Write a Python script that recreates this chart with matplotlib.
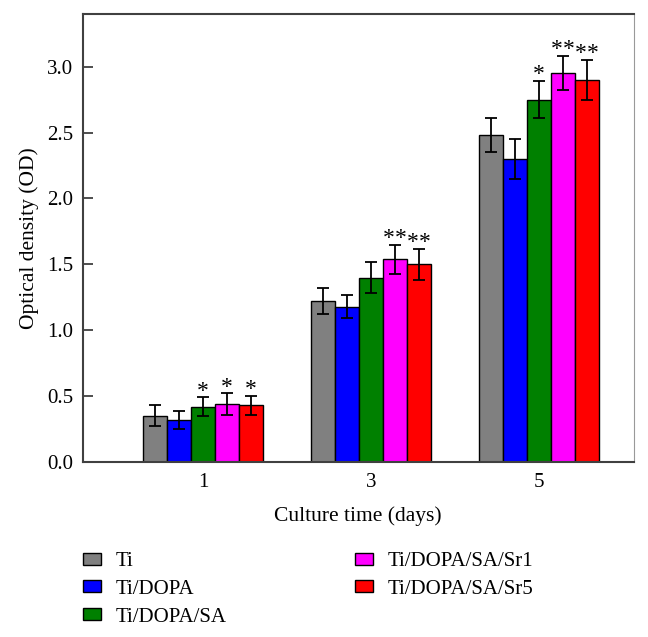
import numpy as np
import matplotlib
matplotlib.use("Agg")
import matplotlib.pyplot as plt

plt.rcParams['font.family'] = ['Liberation Serif', 'DejaVu Serif']

# data
days = ['1', '3', '5']
groups = ['Ti', 'Ti/DOPA', 'Ti/DOPA/SA', 'Ti/DOPA/SA/Sr1', 'Ti/DOPA/SA/Sr5']
colors = ['#808080', '#0000FF', '#008000', '#FF00FF', '#FF0000']
od_mean = [
    [0.35, 1.22, 2.48],   # Ti
    [0.32, 1.18, 2.30],   # Ti/DOPA
    [0.42, 1.40, 2.75],   # Ti/DOPA/SA
    [0.44, 1.54, 2.95],   # Ti/DOPA/SA/Sr1
    [0.43, 1.50, 2.90],   # Ti/DOPA/SA/Sr5
]
od_err = [
    [0.08, 0.10, 0.13],
    [0.07, 0.09, 0.15],
    [0.07, 0.12, 0.14],
    [0.08, 0.11, 0.13],
    [0.07, 0.12, 0.15],
]
# number of significance stars per group and day
stars = [
    [0, 0, 0],
    [0, 0, 0],
    [1, 0, 1],
    [1, 2, 2],
    [1, 2, 2],
]

fig = plt.figure(figsize=(6.48, 6.37), dpi=100)
ax = fig.add_axes([83 / 648, 1 - 462 / 637, (633.6 - 83) / 648, (462 - 14) / 637])

x = np.arange(len(days))
w = 0.143
for i, g in enumerate(groups):
    pos = x + (i - 2) * w
    ax.bar(pos, od_mean[i], width=w, color=colors[i], edgecolor='black',
           linewidth=1.0, label=g, zorder=2)
    ax.errorbar(pos, od_mean[i], yerr=od_err[i], fmt='none', ecolor='black',
                elinewidth=1.3, capsize=4, capthick=1.3, zorder=3)
    for j in range(len(days)):
        n = stars[i][j]
        offs = [0] if n == 1 else ([-4.5, 4.5] if n == 2 else [])
        for dx in offs:
            ax.annotate('*', (pos[j], od_mean[i][j] + od_err[i][j]),
                        xytext=(dx, -3), textcoords='offset points',
                        ha='center', va='bottom', fontsize=17)

ax.set_xlim(-0.715, 2.565)
ax.set_ylim(0, 3.4)
ax.set_yticks([0, 0.5, 1.0, 1.5, 2.0, 2.5, 3.0])
ax.set_yticklabels(['0.0', '0.5', '1.0', '1.5', '2.0', '2.5', '3.0'])
ax.set_xticks(x)
ax.set_xticklabels(days)
ax.tick_params(axis='y', direction='in', length=7, width=1.3, color='#404040',
               labelsize=15, pad=7)
ax.tick_params(axis='x', length=0, labelsize=15, pad=8)

for s in ['left', 'bottom', 'top']:
    ax.spines[s].set_color('#404040')
    ax.spines[s].set_linewidth(1.5)
ax.spines['right'].set_color('#999999')
ax.spines['right'].set_linewidth(0.8)

ax.set_ylabel('Optical density (OD)', fontsize=15.5, labelpad=6)
ax.set_xlabel('Culture time (days)', fontsize=15.5, labelpad=10)

fig.legend(loc='upper left', bbox_to_anchor=(83 / 648, 1 - 552 / 637),
           ncol=2, frameon=False, fontsize=15, borderpad=0, borderaxespad=0,
           handlelength=0.85, handleheight=0.5, handletextpad=0.7,
           labelspacing=0.42, columnspacing=6.2)

fig.savefig('out.png', dpi=100)
